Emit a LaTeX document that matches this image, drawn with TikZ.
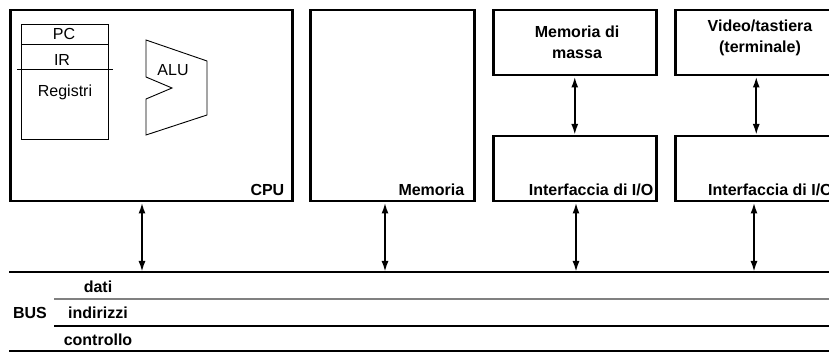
\documentclass[tikz,border=0pt]{standalone}
\usepackage{fontspec}
\setmainfont{Liberation Sans}
\usetikzlibrary{arrows.meta}
\begin{document}
\begin{tikzpicture}[x=1pt,y=-1pt,
  every node/.style={font=\fontsize{16}{21}\selectfont},
  box/.style={draw,line width=2.5pt,inner sep=0pt,anchor=north west},
  lbl/.style={font=\fontsize{16}{21}\selectfont\bfseries,inner sep=0pt},
  txt/.style={font=\fontsize{16}{21}\selectfont,inner sep=0pt},
  link/.style={line width=2pt,{Latex[length=11pt,width=7pt]}-{Latex[length=11pt,width=7pt]}},
  thinline/.style={line width=0.9pt}]
\clip (0,0) rectangle (829,352);
\fill[white] (0,0) rectangle (829,352);
% main boxes
\node[box,minimum width=282pt,minimum height=191pt] (cpu) at (9,9) {};
\node[box,minimum width=164pt,minimum height=191pt] (mem) at (309,9) {};
\node[box,minimum width=163pt,minimum height=65pt] (massa) at (492,9) {};
\node[box,minimum width=162pt,minimum height=65pt] (video) at (674,9) {};
\node[box,minimum width=163pt,minimum height=65pt] (io1) at (492,135) {};
\node[box,minimum width=162pt,minimum height=65pt] (io2) at (674,135) {};
% labels
\node[lbl,anchor=base east] (cpulbl) at ([xshift=-9pt,yshift=7pt]cpu.south east) {CPU};
\node[lbl,anchor=base east] (memlbl) at ([xshift=-11pt,yshift=7pt]mem.south east) {Memoria};
\node[lbl,anchor=base east] (io1lbl) at ([xshift=-4pt,yshift=7pt]io1.south east) {Interfaccia di I/O};
\node[lbl,anchor=base west] (io2lbl) at ([xshift=34pt,yshift=7pt]io2.south west) {Interfaccia di I/O};
\node[lbl,align=center] (massalbl) at (577,42) {Memoria di\\massa};
\node[lbl,align=center] (videolbl) at (760,38) {Video/tastiera\\(terminale)};
% CPU internals
\node[draw,thinline,inner sep=0pt,anchor=north west,minimum width=87pt,minimum height=115pt] (reg) at (21,24) {};
\coordinate (pcy) at (0,44);
\draw[thinline] (reg.west |- pcy) -- (reg.east |- pcy);
\coordinate (irl) at (17,69);
\coordinate (irr) at (113,69);
\draw[thinline] (irl) -- (irr);
\node[txt] (pc) at (64,34) {PC};
\node[txt] (ir) at (62,60) {IR};
\node[txt] (regtxt) at (65,92) {Registri};
\draw[thinline] (146,40) -- (207,61) -- (207,115) -- (146,135) -- (146,99) -- (172,88) -- (146,77) -- cycle;
\node[txt] (alu) at (173,70) {ALU};
% device links
\draw[link] (massa.south) -- (io1.north);
\draw[link] (video.south) -- (io2.north);
% bus
\coordinate (busL) at (9,272);
\coordinate (busR) at (829,272);
\draw[line width=2.5pt] (busL) -- (busR);
\coordinate (b1) at (142,272);
\coordinate (b2) at (385,272);
\coordinate (b3) at (576,272);
\coordinate (b4) at (754,272);
\draw[link] (cpu.south -| b1) -- (b1);
\draw[link] (mem.south -| b2) -- (b2);
\draw[link] (io1.south -| b3) -- (b3);
\draw[link] (io2.south -| b4) -- (b4);
\coordinate (l1a) at (54,299);
\coordinate (l1b) at (829,299);
\draw[line width=1.5pt,gray] (l1a) -- (l1b);
\coordinate (l2a) at (54,326);
\coordinate (l2b) at (829,326);
\draw[line width=1.2pt] (l2a) -- (l2b);
\coordinate (l3a) at (9,351);
\coordinate (l3b) at (829,351);
\draw[line width=1.5pt] (l3a) -- (l3b);
\node[lbl] (dati) at (98,287) {dati};
\node[lbl] (bus) at (30,313) {BUS};
\node[lbl] (ind) at (98,313) {indirizzi};
\node[lbl] (ctrl) at (98,340) {controllo};
\end{tikzpicture}
\end{document}
